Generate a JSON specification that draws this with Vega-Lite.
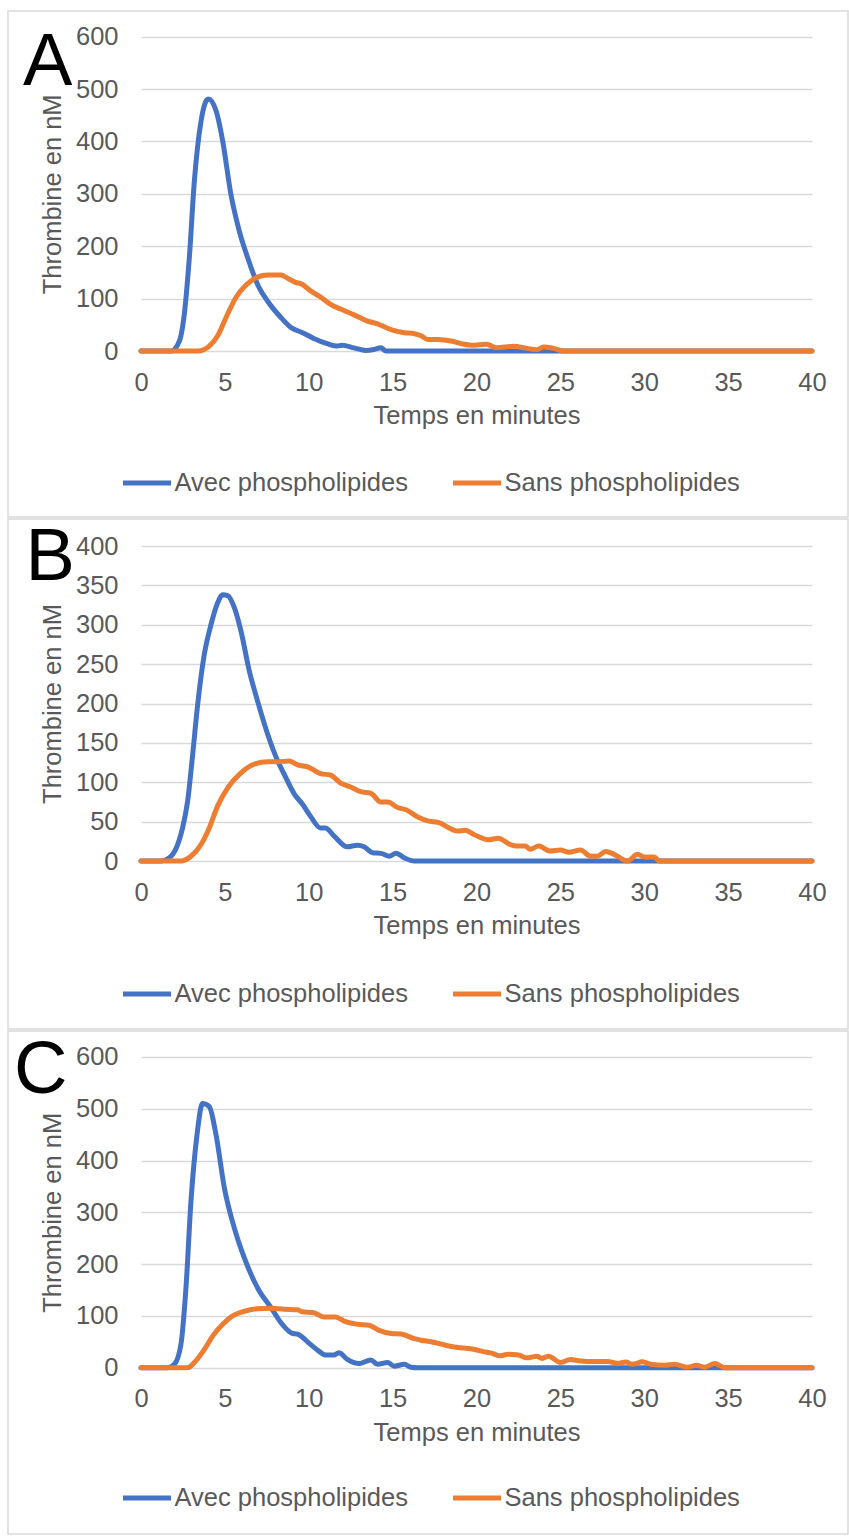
{
  "$schema": "https://vega.github.io/schema/vega-lite/v6.json",
  "padding": {"left": 7, "top": 10, "right": 1, "bottom": 5},
  "spacing": 2,
  "bounds": "flush",
  "datasets": {
    "A": [
      {"t":0,"v":0,"s":"Avec phospholipides"},{"t":1.8,"v":0,"s":"Avec phospholipides"},{"t":2.29,"v":19,"s":"Avec phospholipides"},{"t":2.58,"v":70,"s":"Avec phospholipides"},{"t":2.88,"v":178,"s":"Avec phospholipides"},{"t":3.18,"v":324,"s":"Avec phospholipides"},{"t":3.58,"v":439,"s":"Avec phospholipides"},{"t":4.01,"v":481,"s":"Avec phospholipides"},{"t":4.47,"v":459,"s":"Avec phospholipides"},{"t":4.87,"v":401,"s":"Avec phospholipides"},{"t":5.36,"v":299,"s":"Avec phospholipides"},{"t":5.86,"v":229,"s":"Avec phospholipides"},{"t":6.36,"v":178,"s":"Avec phospholipides"},{"t":6.95,"v":127,"s":"Avec phospholipides"},{"t":7.55,"v":95,"s":"Avec phospholipides"},{"t":8.34,"v":64,"s":"Avec phospholipides"},{"t":8.94,"v":45,"s":"Avec phospholipides"},{"t":9.63,"v":35,"s":"Avec phospholipides"},{"t":10.3,"v":24,"s":"Avec phospholipides"},{"t":11.1,"v":14,"s":"Avec phospholipides"},{"t":11.7,"v":9.5,"s":"Avec phospholipides"},{"t":12.0,"v":11,"s":"Avec phospholipides"},{"t":12.7,"v":6,"s":"Avec phospholipides"},{"t":13.4,"v":1,"s":"Avec phospholipides"},{"t":13.9,"v":3,"s":"Avec phospholipides"},{"t":14.3,"v":6,"s":"Avec phospholipides"},{"t":14.6,"v":0,"s":"Avec phospholipides"},{"t":40,"v":0,"s":"Avec phospholipides"},
      {"t":0,"v":0,"s":"Sans phospholipides"},{"t":3.38,"v":0,"s":"Sans phospholipides"},{"t":4.07,"v":9.5,"s":"Sans phospholipides"},{"t":4.57,"v":29,"s":"Sans phospholipides"},{"t":5.07,"v":64,"s":"Sans phospholipides"},{"t":5.66,"v":102,"s":"Sans phospholipides"},{"t":6.26,"v":126,"s":"Sans phospholipides"},{"t":6.95,"v":141,"s":"Sans phospholipides"},{"t":7.55,"v":145,"s":"Sans phospholipides"},{"t":8.34,"v":145,"s":"Sans phospholipides"},{"t":8.74,"v":139,"s":"Sans phospholipides"},{"t":9.14,"v":132,"s":"Sans phospholipides"},{"t":9.63,"v":127,"s":"Sans phospholipides"},{"t":10.1,"v":115,"s":"Sans phospholipides"},{"t":10.7,"v":103,"s":"Sans phospholipides"},{"t":11.3,"v":89,"s":"Sans phospholipides"},{"t":11.9,"v":80,"s":"Sans phospholipides"},{"t":12.7,"v":69,"s":"Sans phospholipides"},{"t":13.5,"v":57,"s":"Sans phospholipides"},{"t":14.1,"v":52,"s":"Sans phospholipides"},{"t":14.9,"v":41,"s":"Sans phospholipides"},{"t":15.7,"v":35,"s":"Sans phospholipides"},{"t":16.3,"v":33,"s":"Sans phospholipides"},{"t":16.7,"v":29,"s":"Sans phospholipides"},{"t":17.1,"v":22,"s":"Sans phospholipides"},{"t":17.7,"v":22,"s":"Sans phospholipides"},{"t":18.5,"v":19,"s":"Sans phospholipides"},{"t":19.1,"v":14,"s":"Sans phospholipides"},{"t":19.7,"v":11,"s":"Sans phospholipides"},{"t":20.6,"v":13,"s":"Sans phospholipides"},{"t":21.2,"v":6,"s":"Sans phospholipides"},{"t":22.2,"v":9,"s":"Sans phospholipides"},{"t":23.0,"v":5,"s":"Sans phospholipides"},{"t":23.6,"v":2.5,"s":"Sans phospholipides"},{"t":24.0,"v":7.6,"s":"Sans phospholipides"},{"t":24.6,"v":5,"s":"Sans phospholipides"},{"t":25.2,"v":0,"s":"Sans phospholipides"},{"t":40,"v":0,"s":"Sans phospholipides"}
    ],
    "B": [
      {"t":0,"v":0,"s":"Avec phospholipides"},{"t":1.19,"v":0,"s":"Avec phospholipides"},{"t":1.79,"v":6,"s":"Avec phospholipides"},{"t":2.19,"v":21,"s":"Avec phospholipides"},{"t":2.48,"v":42,"s":"Avec phospholipides"},{"t":2.78,"v":76,"s":"Avec phospholipides"},{"t":3.08,"v":135,"s":"Avec phospholipides"},{"t":3.38,"v":199,"s":"Avec phospholipides"},{"t":3.77,"v":262,"s":"Avec phospholipides"},{"t":4.17,"v":300,"s":"Avec phospholipides"},{"t":4.57,"v":328,"s":"Avec phospholipides"},{"t":4.87,"v":338,"s":"Avec phospholipides"},{"t":5.17,"v":337,"s":"Avec phospholipides"},{"t":5.56,"v":322,"s":"Avec phospholipides"},{"t":5.96,"v":292,"s":"Avec phospholipides"},{"t":6.46,"v":241,"s":"Avec phospholipides"},{"t":6.95,"v":203,"s":"Avec phospholipides"},{"t":7.55,"v":161,"s":"Avec phospholipides"},{"t":8.15,"v":127,"s":"Avec phospholipides"},{"t":8.54,"v":110,"s":"Avec phospholipides"},{"t":9.14,"v":85,"s":"Avec phospholipides"},{"t":9.63,"v":72,"s":"Avec phospholipides"},{"t":10.1,"v":57,"s":"Avec phospholipides"},{"t":10.7,"v":42,"s":"Avec phospholipides"},{"t":11.0,"v":42,"s":"Avec phospholipides"},{"t":11.5,"v":32,"s":"Avec phospholipides"},{"t":12.3,"v":18,"s":"Avec phospholipides"},{"t":12.9,"v":20,"s":"Avec phospholipides"},{"t":13.3,"v":18,"s":"Avec phospholipides"},{"t":13.8,"v":10.5,"s":"Avec phospholipides"},{"t":14.3,"v":9.7,"s":"Avec phospholipides"},{"t":14.8,"v":6,"s":"Avec phospholipides"},{"t":15.2,"v":10,"s":"Avec phospholipides"},{"t":15.7,"v":4,"s":"Avec phospholipides"},{"t":16.3,"v":0,"s":"Avec phospholipides"},{"t":40,"v":0,"s":"Avec phospholipides"},
      {"t":0,"v":0,"s":"Sans phospholipides"},{"t":2.38,"v":0,"s":"Sans phospholipides"},{"t":2.98,"v":6,"s":"Sans phospholipides"},{"t":3.58,"v":21,"s":"Sans phospholipides"},{"t":4.07,"v":42,"s":"Sans phospholipides"},{"t":4.57,"v":70,"s":"Sans phospholipides"},{"t":5.17,"v":93,"s":"Sans phospholipides"},{"t":5.96,"v":112,"s":"Sans phospholipides"},{"t":6.75,"v":123,"s":"Sans phospholipides"},{"t":7.55,"v":126,"s":"Sans phospholipides"},{"t":8.15,"v":126,"s":"Sans phospholipides"},{"t":8.84,"v":127,"s":"Sans phospholipides"},{"t":9.34,"v":122,"s":"Sans phospholipides"},{"t":10.0,"v":119,"s":"Sans phospholipides"},{"t":10.7,"v":111,"s":"Sans phospholipides"},{"t":11.3,"v":109,"s":"Sans phospholipides"},{"t":11.9,"v":99,"s":"Sans phospholipides"},{"t":12.5,"v":94,"s":"Sans phospholipides"},{"t":13.1,"v":88,"s":"Sans phospholipides"},{"t":13.7,"v":86,"s":"Sans phospholipides"},{"t":14.3,"v":75,"s":"Sans phospholipides"},{"t":14.7,"v":75,"s":"Sans phospholipides"},{"t":15.3,"v":68,"s":"Sans phospholipides"},{"t":15.8,"v":65,"s":"Sans phospholipides"},{"t":16.5,"v":56,"s":"Sans phospholipides"},{"t":17.1,"v":51,"s":"Sans phospholipides"},{"t":17.7,"v":49,"s":"Sans phospholipides"},{"t":18.9,"v":38,"s":"Sans phospholipides"},{"t":19.3,"v":39,"s":"Sans phospholipides"},{"t":19.9,"v":33,"s":"Sans phospholipides"},{"t":20.7,"v":27,"s":"Sans phospholipides"},{"t":21.3,"v":29,"s":"Sans phospholipides"},{"t":22.0,"v":21,"s":"Sans phospholipides"},{"t":22.4,"v":19,"s":"Sans phospholipides"},{"t":22.9,"v":19,"s":"Sans phospholipides"},{"t":23.2,"v":15,"s":"Sans phospholipides"},{"t":23.7,"v":19,"s":"Sans phospholipides"},{"t":24.4,"v":12.7,"s":"Sans phospholipides"},{"t":25.0,"v":14,"s":"Sans phospholipides"},{"t":25.5,"v":11,"s":"Sans phospholipides"},{"t":26.2,"v":14,"s":"Sans phospholipides"},{"t":26.8,"v":6,"s":"Sans phospholipides"},{"t":27.2,"v":6,"s":"Sans phospholipides"},{"t":27.7,"v":12,"s":"Sans phospholipides"},{"t":28.2,"v":8.5,"s":"Sans phospholipides"},{"t":29.0,"v":0,"s":"Sans phospholipides"},{"t":29.6,"v":8.5,"s":"Sans phospholipides"},{"t":30.0,"v":5,"s":"Sans phospholipides"},{"t":30.6,"v":5,"s":"Sans phospholipides"},{"t":30.9,"v":0,"s":"Sans phospholipides"},{"t":40,"v":0,"s":"Sans phospholipides"}
    ],
    "C": [
      {"t":0,"v":0,"s":"Avec phospholipides"},{"t":1.59,"v":0,"s":"Avec phospholipides"},{"t":1.99,"v":6.5,"s":"Avec phospholipides"},{"t":2.38,"v":45,"s":"Avec phospholipides"},{"t":2.68,"v":154,"s":"Avec phospholipides"},{"t":2.98,"v":322,"s":"Avec phospholipides"},{"t":3.34,"v":450,"s":"Avec phospholipides"},{"t":3.67,"v":510,"s":"Avec phospholipides"},{"t":4.07,"v":504,"s":"Avec phospholipides"},{"t":4.47,"v":450,"s":"Avec phospholipides"},{"t":4.97,"v":347,"s":"Avec phospholipides"},{"t":5.56,"v":270,"s":"Avec phospholipides"},{"t":6.16,"v":212,"s":"Avec phospholipides"},{"t":7.05,"v":148,"s":"Avec phospholipides"},{"t":7.75,"v":116,"s":"Avec phospholipides"},{"t":8.34,"v":87,"s":"Avec phospholipides"},{"t":9.04,"v":66,"s":"Avec phospholipides"},{"t":9.3,"v":65,"s":"Avec phospholipides"},{"t":10.1,"v":45,"s":"Avec phospholipides"},{"t":10.6,"v":32,"s":"Avec phospholipides"},{"t":11.0,"v":24.5,"s":"Avec phospholipides"},{"t":11.5,"v":24.5,"s":"Avec phospholipides"},{"t":11.8,"v":29,"s":"Avec phospholipides"},{"t":12.3,"v":16,"s":"Avec phospholipides"},{"t":13.0,"v":8,"s":"Avec phospholipides"},{"t":13.7,"v":15,"s":"Avec phospholipides"},{"t":14.1,"v":6.5,"s":"Avec phospholipides"},{"t":14.7,"v":10,"s":"Avec phospholipides"},{"t":15.1,"v":3,"s":"Avec phospholipides"},{"t":15.7,"v":6.5,"s":"Avec phospholipides"},{"t":16.1,"v":1,"s":"Avec phospholipides"},{"t":16.5,"v":0,"s":"Avec phospholipides"},{"t":40,"v":0,"s":"Avec phospholipides"},
      {"t":0,"v":0,"s":"Sans phospholipides"},{"t":2.78,"v":0,"s":"Sans phospholipides"},{"t":3.18,"v":10,"s":"Sans phospholipides"},{"t":3.77,"v":35,"s":"Sans phospholipides"},{"t":4.27,"v":61,"s":"Sans phospholipides"},{"t":4.87,"v":84,"s":"Sans phospholipides"},{"t":5.46,"v":100,"s":"Sans phospholipides"},{"t":6.16,"v":109,"s":"Sans phospholipides"},{"t":6.95,"v":114,"s":"Sans phospholipides"},{"t":7.75,"v":115,"s":"Sans phospholipides"},{"t":8.54,"v":113,"s":"Sans phospholipides"},{"t":9.34,"v":112,"s":"Sans phospholipides"},{"t":9.6,"v":108,"s":"Sans phospholipides"},{"t":10.3,"v":106,"s":"Sans phospholipides"},{"t":10.9,"v":98,"s":"Sans phospholipides"},{"t":11.6,"v":98,"s":"Sans phospholipides"},{"t":12.1,"v":90,"s":"Sans phospholipides"},{"t":12.9,"v":84,"s":"Sans phospholipides"},{"t":13.6,"v":82,"s":"Sans phospholipides"},{"t":14.2,"v":72,"s":"Sans phospholipides"},{"t":14.9,"v":66,"s":"Sans phospholipides"},{"t":15.5,"v":65,"s":"Sans phospholipides"},{"t":16.3,"v":56,"s":"Sans phospholipides"},{"t":16.7,"v":53,"s":"Sans phospholipides"},{"t":17.3,"v":50,"s":"Sans phospholipides"},{"t":18.2,"v":43,"s":"Sans phospholipides"},{"t":18.9,"v":39,"s":"Sans phospholipides"},{"t":19.5,"v":37,"s":"Sans phospholipides"},{"t":19.9,"v":35,"s":"Sans phospholipides"},{"t":20.4,"v":31,"s":"Sans phospholipides"},{"t":20.9,"v":28,"s":"Sans phospholipides"},{"t":21.4,"v":23,"s":"Sans phospholipides"},{"t":21.9,"v":26,"s":"Sans phospholipides"},{"t":22.5,"v":24.5,"s":"Sans phospholipides"},{"t":23.0,"v":19,"s":"Sans phospholipides"},{"t":23.6,"v":22,"s":"Sans phospholipides"},{"t":23.9,"v":18,"s":"Sans phospholipides"},{"t":24.3,"v":22,"s":"Sans phospholipides"},{"t":25.0,"v":10,"s":"Sans phospholipides"},{"t":25.6,"v":16,"s":"Sans phospholipides"},{"t":26.2,"v":13,"s":"Sans phospholipides"},{"t":27.0,"v":12,"s":"Sans phospholipides"},{"t":27.8,"v":12,"s":"Sans phospholipides"},{"t":28.4,"v":8.5,"s":"Sans phospholipides"},{"t":28.9,"v":11,"s":"Sans phospholipides"},{"t":29.3,"v":6.5,"s":"Sans phospholipides"},{"t":29.9,"v":11.6,"s":"Sans phospholipides"},{"t":30.4,"v":6.5,"s":"Sans phospholipides"},{"t":31.2,"v":4.6,"s":"Sans phospholipides"},{"t":31.8,"v":6.5,"s":"Sans phospholipides"},{"t":32.6,"v":1,"s":"Sans phospholipides"},{"t":33.1,"v":4.6,"s":"Sans phospholipides"},{"t":33.6,"v":1,"s":"Sans phospholipides"},{"t":34.2,"v":8,"s":"Sans phospholipides"},{"t":34.8,"v":0,"s":"Sans phospholipides"},{"t":40,"v":0,"s":"Sans phospholipides"}
    ]
  },
  "resolve": {"scale": {"x": "independent", "y": "independent", "color": "independent"}, "legend": {"color": "independent"}, "axis": {"x": "independent", "y": "independent"}},
  "vconcat": [
    {
      "width": 840, "height": 506,
      "title": {"text": "A", "offset": -90, "dx": 15},
      "data": {"name": "A"},
      "encoding": {
        "x": {"field": "t", "type": "quantitative", "scale": {"domain": [0, 40], "range": [133, 804], "nice": false, "zero": false}, "axis": {"title": "Temps en minutes", "values": [0,5,10,15,20,25,30,35,40], "offset": -166}}
      },
      "layer": [
        {
          "mark": {"type": "line"},
          "encoding": {
            "y": {"field": "v", "type": "quantitative", "scale": {"domain": [0, 600], "range": [340, 25.7], "nice": false}, "axis": {"orient": "left", "grid": true, "labels": false, "title": null, "offset": 0, "values": [0,100,200,300,400,500,600]}},
            "color": {"field": "s", "type": "nominal", "scale": {"domain": ["Avec phospholipides", "Sans phospholipides"], "range": ["#4472C4", "#ED7D31"]}, "legend": {"title": null, "legendX": 112.5, "legendY": 445.5}}
          }
        },
        {
          "mark": {"type": "point", "opacity": 0},
          "encoding": {
            "y": {"field": "v", "type": "quantitative", "scale": {"domain": [0, 600], "range": [340, 25.7], "nice": false}, "axis": {"orient": "left", "grid": false, "title": "Thrombine en nM", "offset": -112, "values": [0,100,200,300,400,500,600]}}
          }
        }
      ],
      "resolve": {"axis": {"y": "independent"}}
    },
    {
      "width": 840, "height": 510,
      "title": {"text": "B", "offset": -77, "dx": 17.5},
      "data": {"name": "B"},
      "encoding": {
        "x": {"field": "t", "type": "quantitative", "scale": {"domain": [0, 40], "range": [133, 804], "nice": false, "zero": false}, "axis": {"title": "Temps en minutes", "values": [0,5,10,15,20,25,30,35,40], "offset": -168}}
      },
      "layer": [
        {
          "mark": {"type": "line"},
          "encoding": {
            "y": {"field": "v", "type": "quantitative", "scale": {"domain": [0, 400], "range": [342, 27], "nice": false}, "axis": {"orient": "left", "grid": true, "labels": false, "title": null, "offset": 0, "values": [0,50,100,150,200,250,300,350,400]}},
            "color": {"field": "s", "type": "nominal", "scale": {"domain": ["Avec phospholipides", "Sans phospholipides"], "range": ["#4472C4", "#ED7D31"]}, "legend": {"title": null, "legendX": 112.5, "legendY": 448.5}}
          }
        },
        {
          "mark": {"type": "point", "opacity": 0},
          "encoding": {
            "y": {"field": "v", "type": "quantitative", "scale": {"domain": [0, 400], "range": [342, 27], "nice": false}, "axis": {"orient": "left", "grid": false, "title": "Thrombine en nM", "offset": -112, "values": [0,50,100,150,200,250,300,350,400]}}
          }
        }
      ],
      "resolve": {"axis": {"y": "independent"}}
    },
    {
      "width": 840, "height": 503,
      "title": {"text": "C", "offset": -78, "dx": 6},
      "data": {"name": "C"},
      "encoding": {
        "x": {"field": "t", "type": "quantitative", "scale": {"domain": [0, 40], "range": [133, 804], "nice": false, "zero": false}, "axis": {"title": "Temps en minutes", "values": [0,5,10,15,20,25,30,35,40], "offset": -166.3}}
      },
      "layer": [
        {
          "mark": {"type": "line"},
          "encoding": {
            "y": {"field": "v", "type": "quantitative", "scale": {"domain": [0, 600], "range": [336.7, 25.9], "nice": false}, "axis": {"orient": "left", "grid": true, "labels": false, "title": null, "offset": 0, "values": [0,100,200,300,400,500,600]}},
            "color": {"field": "s", "type": "nominal", "scale": {"domain": ["Avec phospholipides", "Sans phospholipides"], "range": ["#4472C4", "#ED7D31"]}, "legend": {"title": null, "legendX": 112.5, "legendY": 440.5}}
          }
        },
        {
          "mark": {"type": "point", "opacity": 0},
          "encoding": {
            "y": {"field": "v", "type": "quantitative", "scale": {"domain": [0, 600], "range": [336.7, 25.9], "nice": false}, "axis": {"orient": "left", "grid": false, "title": "Thrombine en nM", "offset": -112, "values": [0,100,200,300,400,500,600]}}
          }
        }
      ],
      "resolve": {"axis": {"y": "independent"}}
    }
  ],
  "config": {
    "font": "Liberation Sans",
    "view": {"stroke": "#d9d9d9", "strokeWidth": 1.5},
    "axis": {"labelFont": "Liberation Sans", "labelFontSize": 25.5, "labelColor": "#595959", "titleFont": "Liberation Sans", "titleFontSize": 25.5, "titleFontWeight": "normal", "titleColor": "#595959", "domain": false, "ticks": false, "tickSize": 0, "gridColor": "#d9d9d9", "gridWidth": 1.5, "labelFlush": false, "labelOverlap": false, "labelBound": false},
    "axisX": {"grid": false, "labelPadding": 19, "titlePadding": 8},
    "axisY": {"labelPadding": 2, "titlePadding": 10},
    "legend": {"orient": "none", "direction": "horizontal", "symbolType": "stroke", "symbolSize": 2304, "symbolStrokeWidth": 5, "labelFont": "Liberation Sans", "labelFontSize": 25.5, "labelColor": "#595959", "labelOffset": 1, "columnPadding": 42, "padding": 0, "labelLimit": 400},
    "line": {"strokeWidth": 5, "strokeJoin": "round", "strokeCap": "round", "interpolate": "monotone"},
    "title": {"anchor": "start", "frame": "group", "baseline": "alphabetic", "font": "Liberation Sans", "fontSize": 74, "fontWeight": "normal", "color": "#000000"}
  }
}
